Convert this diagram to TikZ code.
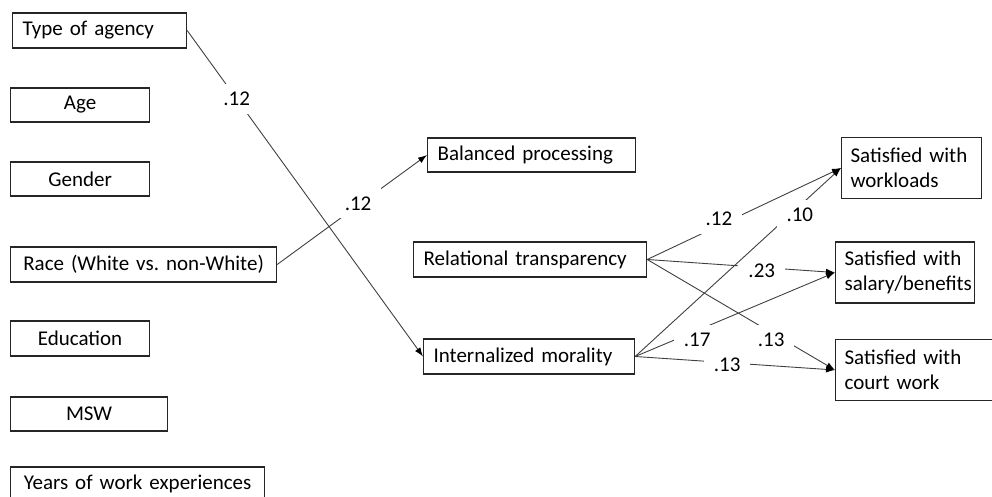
\documentclass[tikz,border=0pt]{standalone}
\usepackage{fontspec}
\setmainfont{Carlito}
\usepackage{tikz}
\usetikzlibrary{arrows.meta}
\frenchspacing
\tikzset{
    mybox/.style={draw=black!85,line width=0.6pt,inner xsep=5pt,inner ysep=0pt,minimum height=17pt,anchor=west},
    leftbox/.style={mybox,text width=#1,align=left},
    midbox/.style={mybox,text width=#1,align=center},
    twobox/.style={mybox,text width=#1,align=left,inner xsep=4.5pt,minimum height=30.5pt},
    myedge/.style={line width=0.45pt,draw=black!75,-{Latex[length=4.5pt,width=3.2pt,black]}},
    mylabel/.style={fill=white,inner xsep=5pt,inner ysep=4pt},
    every node/.style={font=\fontsize{10.5}{12.5}\selectfont}
}
\begin{document}
\begin{tikzpicture}[x=0.5pt,y=-0.5pt]
  \useasboundingbox (0,0) rectangle (992,497);
  % background variables
  \node[leftbox=77pt,minimum height=17.5pt] (agency) at (12,30.5) {Type of agency};
  \node[midbox=59.5pt] (age) at (10,105) {Age};
  \node[midbox=59.5pt] (gender) at (10,179) {Gender};
  \node[midbox=123pt,minimum height=17.5pt] (race) at (10,264.5) {Race (White vs. non-White)};
  \node[midbox=59.5pt,minimum height=17.5pt] (edu) at (10,338.5) {Education};
  \node[midbox=68.5pt] (msw) at (10,414) {MSW};
  \node[midbox=117pt] (years) at (10,484) {Years of work experiences};
  % leadership dimensions
  \node[leftbox=94pt] (balanced) at (427,155) {Balanced processing};
  \node[leftbox=106.5pt,minimum height=17.5pt] (relational) at (413,259.5) {Relational transparency};
  \node[leftbox=95.5pt,minimum height=17.5pt] (moral) at (423,356.5) {Internalized morality};
  % outcomes
  \node[twobox=61pt] (workload) at (841,168) {Satisfied with\\workloads};
  \node[twobox=60.5pt] (salary) at (835,272.5) {Satisfied with\\salary/benefits};
  \node[twobox=80pt] (court) at (835,370) {Satisfied with\\court work};
  % paths
  \draw[myedge] (agency.east) -- node[mylabel,pos=0.21] {.12} (moral.west);
  \draw[myedge] (race.east) -- node[mylabel,pos=0.54,yshift=1pt] {.12} (balanced.west);
  \draw[myedge] (relational.east) -- node[mylabel,pos=0.37,yshift=3.5pt] {.12} (workload.west);
  \draw[myedge] (relational.east) -- node[mylabel,pos=0.61,yshift=-1.5pt] {.23} (salary.west);
  \draw[myedge] (relational.east) -- node[mylabel,pos=0.66,yshift=-3.5pt] {.13} (court.west);
  \draw[myedge] (moral.east) -- node[mylabel,pos=0.80,yshift=-4.5pt] {.10} (workload.west);
  \draw[myedge] (moral.east) -- node[mylabel,pos=0.31,yshift=-4.5pt] {.17} (salary.west);
  \draw[myedge] (moral.east) -- node[mylabel,pos=0.46,yshift=-1pt] {.13} (court.west);
\end{tikzpicture}
\end{document}
